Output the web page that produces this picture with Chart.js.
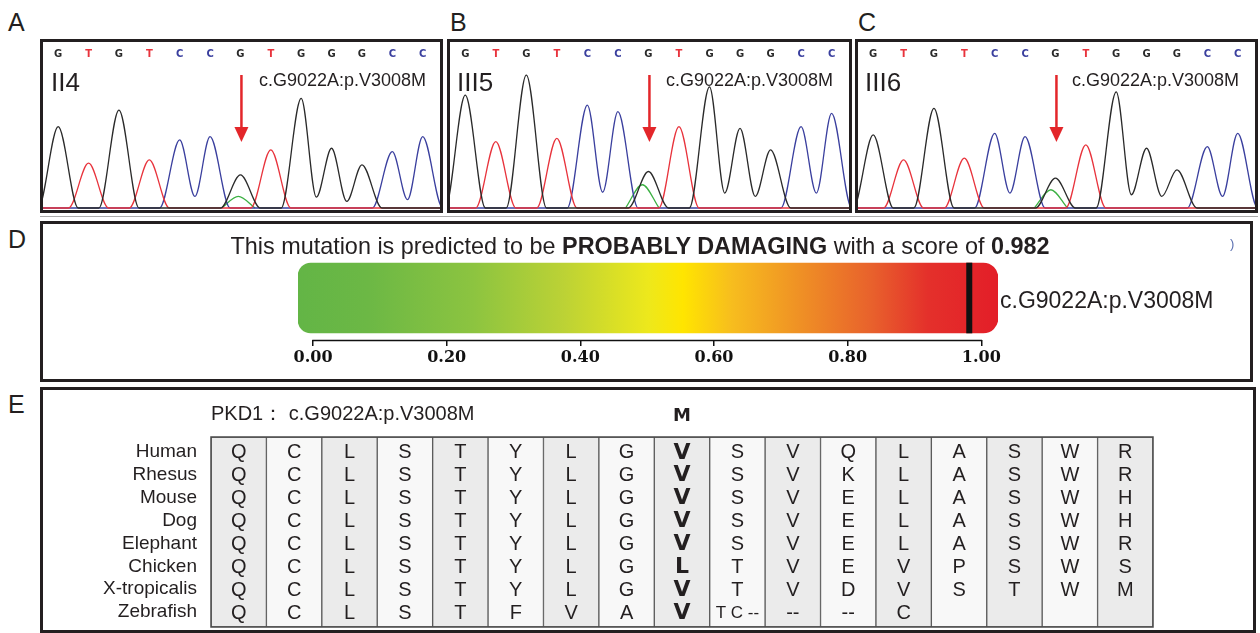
<!DOCTYPE html>
<html>
<head>
<meta charset="utf-8">
<script src="https://cdn.jsdelivr.net/npm/chart.js@4.4.1/dist/chart.umd.min.js"></script>
<style>
  body { margin: 0; background: #fff; width: 1260px; height: 633px; overflow: hidden; position: relative;
         font-family: "Liberation Sans", Arial, sans-serif; color: #231f20; }
  .t { position: absolute; white-space: nowrap; transform: translateY(-50%); line-height: 1; }
  .box { position: absolute; border: 3px solid #231f20; box-sizing: border-box; }
  canvas { display: block; }
</style>
</head>
<body>

<!-- panel letters -->
<div class="t" style="left:8px;top:22px;font-size:25px">A</div>
<div class="t" style="left:450px;top:22px;font-size:25px">B</div>
<div class="t" style="left:858px;top:22px;font-size:25px">C</div>
<div class="t" style="left:8px;top:239px;font-size:25px">D</div>
<div class="t" style="left:8px;top:404px;font-size:25px">E</div>

<!-- sequencing traces -->
<div class="box" style="left:40px;top:39px;width:403px;height:174px"><canvas id="trA" width="397" height="168"></canvas></div>
<div class="box" style="left:447px;top:39px;width:405px;height:174px"><canvas id="trB" width="399" height="168"></canvas></div>
<div class="box" style="left:855px;top:39px;width:403px;height:174px"><canvas id="trC" width="397" height="168"></canvas></div>

<div class="t" style="left:51px;top:82px;font-size:26px">II4</div>
<div class="t" style="left:457px;top:82px;font-size:26px">III5</div>
<div class="t" style="left:865px;top:82px;font-size:26px">III6</div>
<div class="t" style="right:834px;top:80px;font-size:18px">c.G9022A:p.V3008M</div>
<div class="t" style="right:427px;top:80px;font-size:18px">c.G9022A:p.V3008M</div>
<div class="t" style="right:21px;top:80px;font-size:18px">c.G9022A:p.V3008M</div>

<div style="position:absolute;left:40px;top:216px;width:1218px;height:1px;background:#aaa"></div>

<!-- PolyPhen score -->
<div class="box" style="left:40px;top:221px;width:1213px;height:161px"><canvas id="score" width="1207" height="155"></canvas></div>
<div class="t" style="left:20px;width:1240px;text-align:center;top:247px;font-size:23.4px">This mutation is predicted to be <b>PROBABLY DAMAGING</b> with a score of <b>0.982</b></div>
<div class="t" style="left:1000px;top:300px;font-size:23px">c.G9022A:p.V3008M</div>
<div class="t" style="left:1230px;top:243px;font-size:13px;color:#5a6fb0">)</div>

<!-- conservation -->
<div class="box" style="left:40px;top:387px;width:1216px;height:246px"><canvas id="align" width="1210" height="240"></canvas></div>
<div class="t" style="left:211px;top:413px;font-size:20px">PKD1： c.G9022A:p.V3008M</div>

<script>
// ---- traces (peak heights, 100 = top of box) ----
const bases = ["G", "T", "G", "T", "C", "C", "G", "T", "G", "G", "G", "C", "C"];

const peaksII4  = [49, 27, 59, 29, 41, 43, 20, 35, 66, 36, 26, 34, 43];
const valleysII4 = [0, 0, 0, 0, 7, 0, 0, 0, 6.5, 4, 0, 5, 0];
const greenII4 = 7, greenPosII4 = 5.93;

const peaksIII5  = [68, 40, 80, 42, 62, 58, 22, 49, 73, 48, 35, 49, 57];
const valleysIII5 = [0, 0, 0, 0, 9.5, 0, 0, 0, 9, 7, 0, 9, 0];
const greenIII5 = 14, greenPosIII5 = 5.8;

const peaksIII6  = [44, 29, 60, 30, 45, 43, 18, 38, 70, 36, 23, 37, 45];
const valleysIII6 = [0, 0, 0, 0, 9, 0, 0, 0, 8, 7, 0, 7, 0];
const greenIII6 = 11, greenPosIII6 = 5.85;

const baseColor = { G: "#2a2a2a", T: "#e8333c", C: "#3a3f9e", A: "#3cb043" };
const mutIndex = 6;

// ---- PolyPhen ----
const score = 0.982;
const scoreTicks = [0, 0.2, 0.4, 0.6, 0.8, 1.0];

// ---- alignment ----
const residuePos = [3000, 3001, 3002, 3003, 3004, 3005, 3006, 3007, 3008, 3009, 3010, 3011, 3012, 3013, 3014, 3015, 3016];
const species = ["Human", "Rhesus", "Mouse", "Dog", "Elephant", "Chicken", "X-tropicalis", "Zebrafish"];
const alignment = [
  ["Q","C","L","S","T","Y","L","G","V","S","V","Q","L","A","S","W","R"],
  ["Q","C","L","S","T","Y","L","G","V","S","V","K","L","A","S","W","R"],
  ["Q","C","L","S","T","Y","L","G","V","S","V","E","L","A","S","W","H"],
  ["Q","C","L","S","T","Y","L","G","V","S","V","E","L","A","S","W","H"],
  ["Q","C","L","S","T","Y","L","G","V","S","V","E","L","A","S","W","R"],
  ["Q","C","L","S","T","Y","L","G","L","T","V","E","V","P","S","W","S"],
  ["Q","C","L","S","T","Y","L","G","V","T","V","D","V","S","T","W","M"],
  ["Q","C","L","S","T","F","V","A","V","T C --","--","--","C","","","",""]
];
const mutantResidue = "M";
const mutCol = 8;

function traceFor(base, peaks, valleys) {
  const pts = [{ x: -2, y: 0 }];
  bases.forEach((b, i) => {
    if (b !== base) return;
    if (!(i > 0 && bases[i - 1] === base)) pts.push({ x: i - 0.66, y: 0 });
    pts.push({ x: i, y: peaks[i] });
    if (i < bases.length - 1 && bases[i + 1] === base) pts.push({ x: i + 0.5, y: valleys[i] });
    else pts.push({ x: i + 0.66, y: 0 });
  });
  pts.push({ x: 15, y: 0 });
  return pts;
}

const traceLabels = {
  id: "traceLabels",
  afterDatasetsDraw(chart) {
    const { ctx, chartArea, scales } = chart;
    ctx.save();
    ctx.font = "bold 10px 'DejaVu Sans'";
    ctx.textAlign = "center";
    ctx.textBaseline = "middle";
    bases.forEach((b, i) => {
      ctx.fillStyle = baseColor[b];
      ctx.fillText(b, scales.x.getPixelForValue(i), chartArea.top + 12);
    });
    const ax = scales.x.getPixelForValue(mutIndex) + 1;
    ctx.strokeStyle = "#e3262a";
    ctx.fillStyle = "#e3262a";
    ctx.lineWidth = 2.5;
    ctx.beginPath();
    ctx.moveTo(ax, chartArea.top + 33);
    ctx.lineTo(ax, chartArea.top + 88);
    ctx.stroke();
    ctx.beginPath();
    ctx.moveTo(ax - 7, chartArea.top + 85);
    ctx.lineTo(ax + 7, chartArea.top + 85);
    ctx.lineTo(ax, chartArea.top + 100);
    ctx.closePath();
    ctx.fill();
    ctx.restore();
  }
};

function makeTrace(id, peaks, valleys, greenH, greenX) {
  const line = (label, data, color) => ({
    label, data, borderColor: color, borderWidth: 1.3, pointRadius: 0,
    cubicInterpolationMode: "monotone", fill: false
  });
  new Chart(document.getElementById(id), {
    type: "line",
    data: {
      datasets: [
        line("G", traceFor("G", peaks, valleys), baseColor.G),
        line("T", traceFor("T", peaks, valleys), baseColor.T),
        line("C", traceFor("C", peaks, valleys), baseColor.C),
        line("A", [{ x: greenX - 0.55, y: 0 }, { x: greenX, y: greenH }, { x: greenX + 0.55, y: 0 }], baseColor.A)
      ]
    },
    options: {
      responsive: false, animation: false,
      layout: { padding: 0 },
      plugins: { legend: { display: false }, tooltip: { enabled: false } },
      scales: {
        x: { type: "linear", min: -0.5, max: 12.57, display: false },
        y: { min: -1.2, max: 100, display: false }
      }
    },
    plugins: [traceLabels]
  });
}

makeTrace("trA", peaksII4, valleysII4, greenII4, greenPosII4);
makeTrace("trB", peaksIII5, valleysIII5, greenIII5, greenPosIII5);
makeTrace("trC", peaksIII6, valleysIII6, greenIII6, greenPosIII6);

// ---- score bar ----
const scoreAxis = {
  id: "scoreAxis",
  afterDatasetsDraw(chart) {
    const { ctx, chartArea, scales } = chart;
    ctx.save();
    ctx.strokeStyle = "#111";
    ctx.lineWidth = 1.5;
    ctx.beginPath();
    ctx.moveTo(scales.x.getPixelForValue(0) - 0.75, chartArea.bottom + 0.5);
    ctx.lineTo(scales.x.getPixelForValue(1) + 0.75, chartArea.bottom + 0.5);
    ctx.stroke();
    ctx.restore();
  }
};

new Chart(document.getElementById("score"), {
  type: "bar",
  data: {
    labels: ["score"],
    datasets: [
      { data: [[score - 0.004, score + 0.004]], backgroundColor: "#111", barThickness: 70, grouped: false },
      {
        data: [[-0.0225, 1.025]], barThickness: 70, grouped: false, borderSkipped: false,
        borderRadius: { topLeft: 13, bottomLeft: 13, topRight: 15, bottomRight: 15 },
        backgroundColor(ctx) {
          const { chart } = ctx;
          const area = chart.chartArea;
          if (!area) return "#e31e28";
          const g = chart.ctx.createLinearGradient(area.left, 0, area.right, 0);
          g.addColorStop(0, "#63b546");
          g.addColorStop(0.1, "#6cb845");
          g.addColorStop(0.25, "#8cc440");
          g.addColorStop(0.38, "#bcd235");
          g.addColorStop(0.5, "#ede81c");
          g.addColorStop(0.55, "#ffe500");
          g.addColorStop(0.62, "#f7bd1e");
          g.addColorStop(0.72, "#ef8f25");
          g.addColorStop(0.82, "#e8612c");
          g.addColorStop(0.9, "#e4302b");
          g.addColorStop(1, "#e31e28");
          return g;
        }
      }
    ]
  },
  options: {
    indexAxis: "y", responsive: false, animation: false,
    layout: { padding: { left: 255, right: 252, top: 32, bottom: 0 } },
    plugins: { legend: { display: false }, tooltip: { enabled: false } },
    scales: {
      y: { display: false },
      x: {
        type: "linear", min: -0.0225, max: 1.025,
        afterBuildTicks(scale) { scale.ticks = scoreTicks.map(v => ({ value: v })); },
        afterFit(scale) { scale.height = 39; },
        border: { display: false },
        grid: { drawOnChartArea: false, drawTicks: true, tickLength: 6, color: "#111", lineWidth: 1.5 },
        ticks: {
          padding: 2, color: "#111", maxRotation: 0,
          font: { family: "'DejaVu Serif', serif", size: 16, weight: "bold" },
          callback: v => Number(v).toFixed(2)
        }
      }
    }
  },
  plugins: [scoreAxis]
});

// ---- alignment table ----
const rowTop = 0.65, rowSpan = 8.3;
const alignText = {
  id: "alignText",
  afterDatasetsDraw(chart) {
    const { ctx, chartArea, scales } = chart;
    ctx.save();
    ctx.strokeStyle = "#4a4a4a";
    ctx.lineWidth = 1.5;
    ctx.strokeRect(chartArea.left, chartArea.top, chartArea.right - chartArea.left, chartArea.bottom - chartArea.top);
    ctx.textBaseline = "middle";
    ctx.fillStyle = "#231f20";
    species.forEach((sp, r) => {
      const y = scales.y.getPixelForValue(rowTop + r);
      ctx.font = "19px 'Liberation Sans'";
      ctx.textAlign = "right";
      ctx.fillText(sp, chartArea.left - 14, y);
      ctx.textAlign = "center";
      alignment[r].forEach((aa, c) => {
        const x = scales.x.getPixelForValue(c);
        if (c === mutCol) ctx.font = "bold 22px 'DejaVu Sans'";
        else if (aa.length > 2) ctx.font = "17px 'Liberation Sans'";
        else ctx.font = "20px 'Liberation Sans'";
        ctx.fillText(aa, x, y + 1);
      });
    });
    ctx.font = "bold 18px 'DejaVu Sans'";
    ctx.fillText(mutantResidue, scales.x.getPixelForValue(mutCol), chartArea.top - 21);
    ctx.restore();
  }
};

new Chart(document.getElementById("align"), {
  type: "bar",
  data: {
    labels: residuePos.map(p => "p." + p),
    datasets: [{
      data: residuePos.map(() => [0, rowSpan]),
      backgroundColor: residuePos.map((p, i) => i % 2 === 0 ? "#ebebeb" : "#f8f8f8"),
      borderColor: "#5a5a5a", borderWidth: 1, borderSkipped: false,
      barPercentage: 1, categoryPercentage: 1
    }]
  },
  options: {
    responsive: false, animation: false,
    layout: { padding: { left: 168, right: 100, top: 47, bottom: 3 } },
    plugins: { legend: { display: false }, tooltip: { enabled: false } },
    scales: {
      x: { type: "category", display: false },
      y: { type: "linear", min: 0, max: rowSpan, reverse: true, display: false }
    }
  },
  plugins: [alignText]
});
</script>
</body>
</html>
